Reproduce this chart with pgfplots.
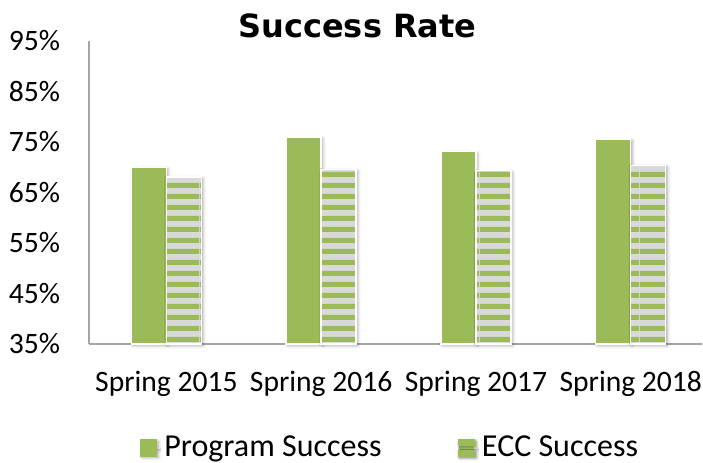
\documentclass[border=0pt]{standalone}
\usepackage{pgfplots}
\pgfplotsset{compat=1.18}
\usepackage{fontspec}
\setmainfont{Carlito}
\newfontfamily\titlefont{DejaVu Sans}
\usetikzlibrary{patterns,shadows.blur}
\definecolor{bargreen}{HTML}{9BBB59}
\definecolor{stripegray}{HTML}{D9D9D9}
\definecolor{axgray}{HTML}{A6A6A6}
\pgfdeclarepatternformonly{hstripes}{\pgfqpoint{0pt}{0pt}}{\pgfqpoint{20pt}{5.5pt}}{\pgfqpoint{20pt}{5.5pt}}{%
  \pgfpathrectangle{\pgfqpoint{0pt}{0pt}}{\pgfqpoint{20pt}{2.75pt}}\pgfusepath{fill}}
\begin{document}
\begin{tikzpicture}
\path[use as bounding box] (-44.5pt,-59pt) rectangle (307pt,172pt);
\begin{axis}[
  at={(0,0)}, anchor=south west,
  scale only axis,
  width=306.5pt, height=151.5pt,
  xmin=-0.5, xmax=3.46,
  ymin=35, ymax=95,
  ytick={35,45,55,65,75,85,95},
  yticklabel={\pgfmathprintnumber{\tick}\%},
  xtick={0,1,2,3},
  xticklabels={Spring 2015,Spring 2016,Spring 2017,Spring 2018},
  /pgf/number format/assume math mode=true,
  axis lines=left,
  axis line style={axgray, line width=0.9pt, -},
  major tick length=0pt,
  tick style={draw=none},
  tick label style={font=\fontsize{14.8pt}{16pt}\selectfont, black},
  yticklabel style={xshift=-11pt},
  xticklabel style={yshift=-10pt},
  ybar=0pt,
  bar width=17.5pt,
  title={\titlefont\bfseries Success Rate},
  title style={at={(0.438,1)}, anchor=base, yshift=-4pt, font=\fontsize{16pt}{18pt}\selectfont},
  legend columns=2,
  legend style={at={(0.4927,-0.343)}, anchor=center, draw=none, fill=none,
    font=\fontsize{16pt}{17pt}\selectfont,
    /tikz/every even column/.append style={column sep=36pt}},
  legend cell align=left,
  clip=false,
]
\addplot[fill=bargreen, draw=white, line width=0.7pt,
  blur shadow={shadow xshift=0.8pt, shadow yshift=-0.8pt, shadow blur radius=1.5pt, shadow opacity=35},
  legend image code/.code={\path (0pt,0pt) -- (9.5pt,0pt);
     \fill[bargreen] (0pt,-4pt) rectangle (8pt,4pt);}]
  coordinates {(0,70.0) (1,76.0) (2,73.1) (3,75.6)};
\addlegendentry{Program Success}
\addplot[fill=stripegray, draw=white, line width=0.7pt,
  blur shadow={shadow xshift=0.8pt, shadow yshift=-0.8pt, shadow blur radius=1.5pt, shadow opacity=35},
  postaction={pattern=hstripes, pattern color=bargreen},
  legend image code/.code={\path (0pt,0pt) -- (9.5pt,0pt);
     \fill[stripegray] (0pt,-4pt) rectangle (8pt,4pt);
     \fill[bargreen] (0pt,1.6pt) rectangle (8pt,4pt);
     \fill[bargreen] (0pt,-4pt) rectangle (8pt,-1.6pt);}]
  coordinates {(0,68.1) (1,69.6) (2,69.3) (3,70.4)};
\addlegendentry{ECC Success}
\end{axis}
\end{tikzpicture}
\end{document}
